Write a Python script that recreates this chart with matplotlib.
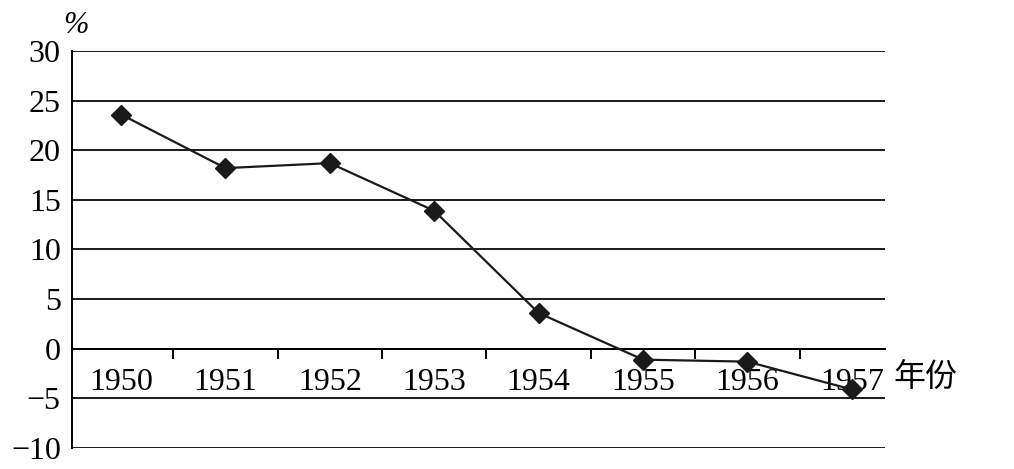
import matplotlib
matplotlib.use('Agg')
import matplotlib.pyplot as plt
import matplotlib.transforms as mtransforms

plt.rcParams['font.family'] = ['Liberation Serif', 'Noto Sans CJK SC']
plt.rcParams['axes.unicode_minus'] = True

# 数据
years = ['1950', '1951', '1952', '1953', '1954', '1955', '1956', '1957']
values = [23.6, 18.2, 18.7, 13.9, 3.6, -1.1, -1.3, -4.1]
yticks = [-10, -5, 0, 5, 10, 15, 20, 25, 30]

fig = plt.figure(figsize=(10.14, 4.69), dpi=100)
ax = fig.add_axes([0.071, 0.0448, 0.802, 0.8465])

x = list(range(len(years)))
ax.plot(x, values, color='#1a1a1a', lw=1.6, marker='D', markersize=10.5,
        markerfacecolor='#1a1a1a', markeredgecolor='#1a1a1a', zorder=3)

ax.set_xlim(-0.47, len(years) - 0.68)
ax.set_ylim(-10, 30)
ax.set_yticks(yticks)
ax.yaxis.grid(True, color='#1a1a1a', lw=1.4)
ax.set_axisbelow(True)

for s in ['top', 'right']:
    ax.spines[s].set_visible(False)
ax.spines['left'].set_linewidth(1.4)
ax.spines['bottom'].set_position(('data', 0))
ax.spines['bottom'].set_linewidth(1.4)

ax.set_xticks(x)
ax.set_xticklabels(years)
ax.set_xticks([i + 0.5 for i in x[:-1]], minor=True)
ax.tick_params(axis='x', which='major', length=0, pad=14, labelsize=23)
ax.tick_params(axis='x', which='minor', length=7, width=1.4, direction='out')
ax.tick_params(axis='y', length=0, pad=8, labelsize=23)

trans = mtransforms.blended_transform_factory(ax.transAxes, ax.transData)
ax.text(1.01, -2.9, '年份', transform=trans, fontsize=23, va='center', ha='left',
        family=['Noto Sans CJK SC'], clip_on=False)
fig.text(0.062, 0.915, '%', fontsize=22, style='italic', ha='left', va='bottom')

fig.savefig('out.png', dpi=100)
